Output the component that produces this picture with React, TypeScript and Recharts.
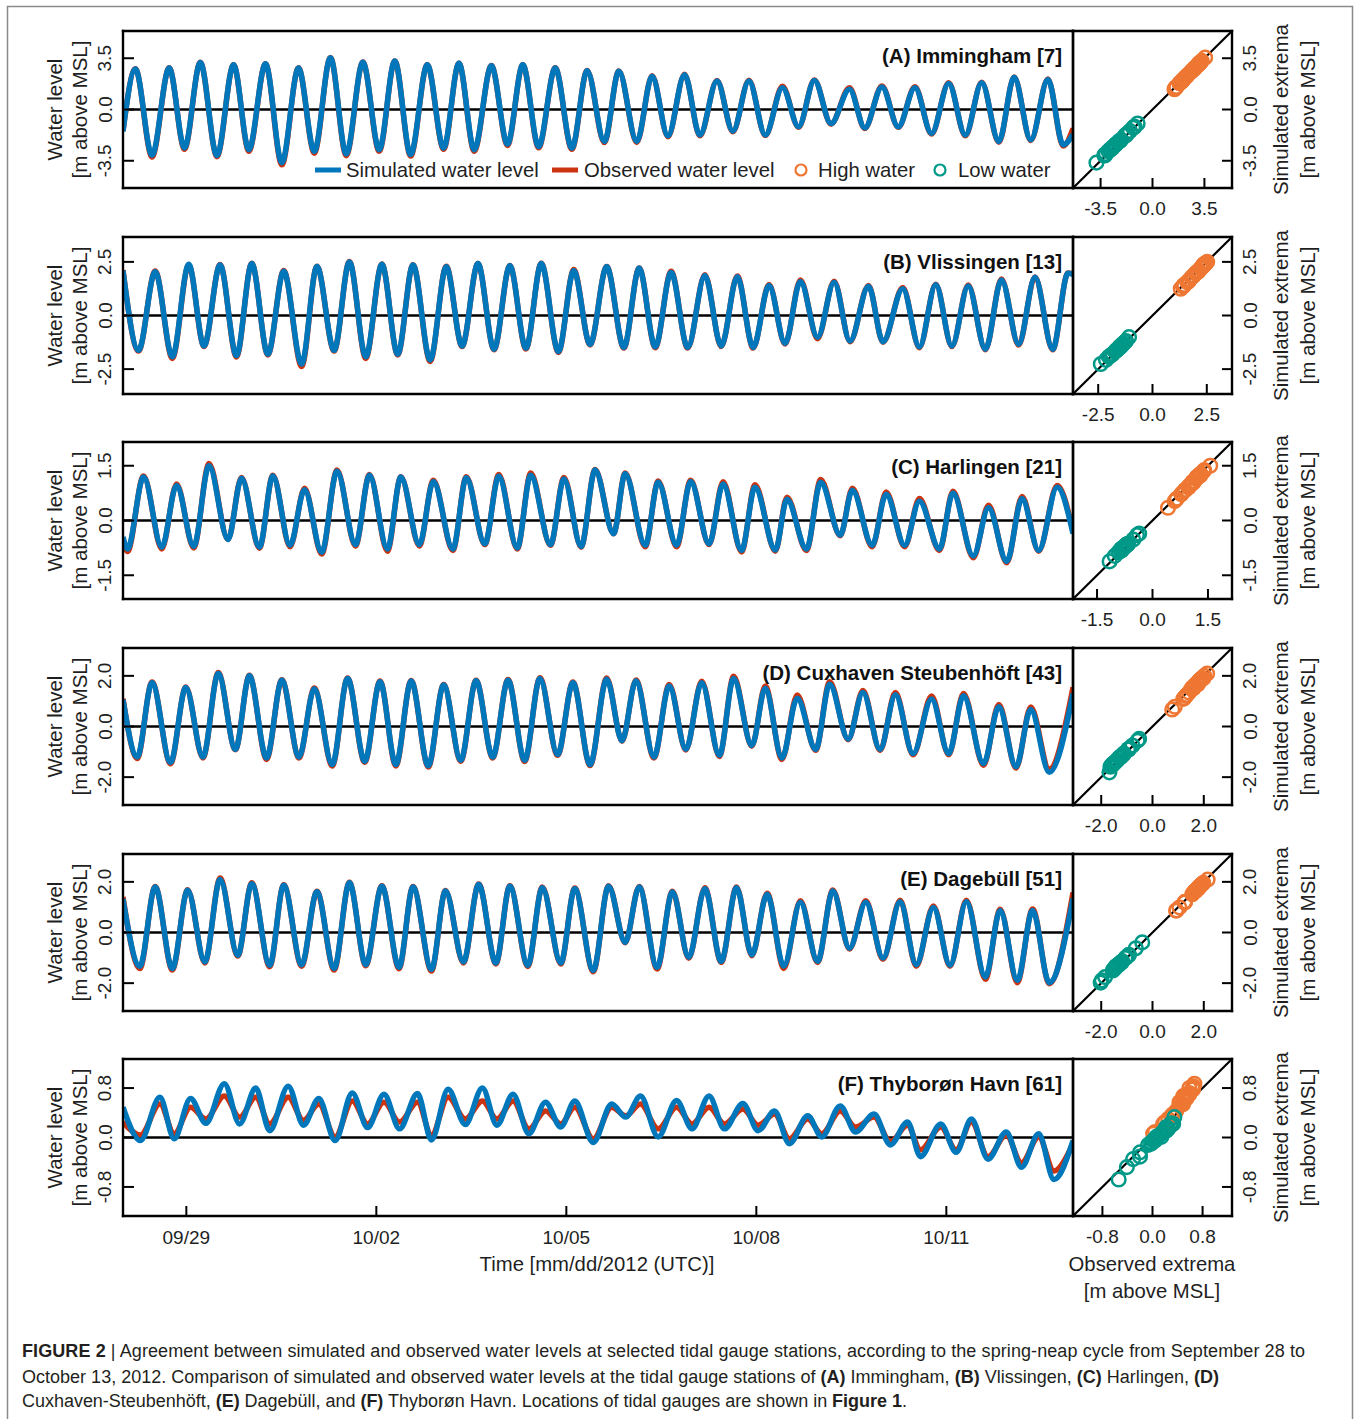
import React from 'react';
import { LineChart, Line, XAxis, YAxis, ReferenceLine, ScatterChart, Scatter } from 'recharts';

const FONT = '"Liberation Sans", Arial, Helvetica, sans-serif';
const INK = '#1f1f1f';
const BLUE = '#0077BB';
const RED = '#CC3311';
const ORANGE = '#EE7733';
const TEAL = '#009988';

// time axis (hours since 09/28/2012 00:00 UTC)
const timeTicks = [24, 96, 168, 240, 312];
const timeTickLabels = ['09/29', '10/02', '10/05', '10/08', '10/11'];

// ---------- (A) Immingham ----------
const highHoursA = [4.7, 17.5, 29.3, 41.9, 54.0, 66.5, 78.6, 90.9, 103.0, 115.3, 127.3, 139.6, 151.5, 163.8, 175.9, 187.9, 200.5, 212.8, 225.1, 237.2, 249.9, 262.0, 275.3, 287.6, 300.1, 312.9, 325.4, 337.7, 350.5];
const highSimA = [2.76, 2.83, 3.21, 3.05, 3.12, 2.83, 3.54, 3.23, 3.32, 3.05, 3.16, 2.98, 3.05, 2.83, 2.65, 2.61, 2.27, 2.38, 1.94, 1.94, 1.49, 1.98, 1.38, 1.54, 1.49, 1.78, 1.83, 2.20, 2.05];
const highObsA = [2.78, 2.85, 3.22, 3.06, 3.12, 2.85, 3.55, 3.24, 3.32, 3.06, 3.16, 3.0, 3.06, 2.85, 2.67, 2.63, 2.3, 2.4, 1.98, 2.0, 1.58, 2.02, 1.48, 1.6, 1.55, 1.82, 1.86, 2.22, 2.08];
const lowHoursA = [11.0, 23.3, 35.6, 47.7, 60.2, 72.5, 84.6, 97.1, 109.0, 121.5, 133.1, 145.7, 157.5, 170.1, 182.4, 194.7, 206.5, 218.6, 231.1, 243.4, 256.0, 268.3, 281.1, 293.8, 306.4, 319.2, 331.9, 344.0, 356.3];
const lowSimA = [-3.12, -2.63, -3.14, -2.74, -3.63, -2.85, -3.03, -2.74, -3.07, -2.63, -2.74, -2.36, -2.52, -2.63, -2.18, -2.18, -1.80, -1.74, -1.47, -1.74, -1.18, -0.96, -1.25, -1.18, -1.63, -1.74, -2.18, -2.07, -2.41];
const lowObsA = [-3.25, -2.72, -3.22, -2.85, -3.78, -2.98, -3.15, -2.85, -3.18, -2.72, -2.85, -2.45, -2.62, -2.72, -2.26, -2.25, -1.86, -1.8, -1.52, -1.78, -1.22, -1.0, -1.3, -1.22, -1.68, -1.8, -2.24, -2.12, -2.5];
const edgeSimA = [-1.5, -1.7];
const edgeObsA = [-1.45, -1.3];

// ---------- (B) Vlissingen ----------
const highHoursB = [12.2, 24.9, 36.8, 48.8, 60.9, 73.5, 85.8, 98.1, 109.9, 122.5, 134.5, 146.6, 158.5, 170.8, 183.3, 195.6, 207.7, 220.5, 232.8, 244.8, 256.7, 269.5, 282.5, 295.5, 308.0, 320.3, 332.9, 345.6, 358.1];
const highSimB = [2.04, 2.39, 2.36, 2.42, 2.06, 2.29, 2.50, 2.39, 2.36, 2.27, 2.42, 2.32, 2.42, 2.09, 2.27, 2.20, 2.01, 1.86, 1.81, 1.40, 1.59, 1.55, 1.36, 1.25, 1.43, 1.37, 1.66, 1.78, 1.97];
const highObsB = [2.08, 2.36, 2.38, 2.44, 2.1, 2.3, 2.52, 2.4, 2.37, 2.3, 2.42, 2.33, 2.44, 2.14, 2.28, 2.22, 2.06, 1.9, 1.84, 1.44, 1.66, 1.6, 1.4, 1.3, 1.46, 1.42, 1.7, 1.8, 1.98];
const lowHoursB = [5.9, 18.7, 30.7, 43.0, 54.9, 67.7, 80.0, 92.0, 104.1, 116.4, 128.5, 140.6, 152.7, 165.0, 177.0, 189.8, 201.7, 214.0, 226.7, 238.8, 250.9, 263.2, 275.5, 288.0, 301.8, 314.1, 326.8, 339.4, 352.3];
const lowSimB = [-1.62, -1.92, -1.42, -1.87, -1.80, -2.26, -1.62, -1.92, -1.80, -2.07, -1.42, -1.57, -1.52, -1.68, -1.34, -1.49, -1.46, -1.49, -1.42, -1.49, -1.30, -1.01, -1.19, -1.22, -1.46, -1.42, -1.57, -1.34, -1.57];
const lowObsB = [-1.66, -2.0, -1.45, -1.93, -1.84, -2.38, -1.66, -2.0, -1.84, -2.14, -1.45, -1.6, -1.56, -1.72, -1.37, -1.52, -1.5, -1.52, -1.45, -1.52, -1.33, -1.08, -1.22, -1.25, -1.5, -1.45, -1.6, -1.38, -1.6];
const edgeSimB = [2.09, 1.92];
const edgeObsB = [2.12, 1.95];

// ---------- (C) Harlingen ----------
const highHoursC = [7.8, 20.3, 32.6, 44.9, 56.8, 68.8, 81.1, 93.4, 105.3, 117.6, 130.1, 142.4, 154.5, 167.1, 178.9, 190.3, 202.8, 215.1, 227.4, 239.5, 251.6, 264.4, 276.4, 289.2, 301.8, 314.5, 328.0, 340.7, 354.0];
const highSimC = [1.19, 0.96, 1.50, 1.16, 1.22, 0.84, 1.35, 1.24, 1.19, 1.07, 1.17, 1.21, 1.24, 1.14, 1.38, 1.28, 1.05, 1.07, 1.00, 0.91, 0.58, 1.05, 0.83, 0.72, 0.53, 0.75, 0.35, 0.60, 0.91];
const highObsC = [1.22, 1.0, 1.56, 1.18, 1.24, 0.88, 1.38, 1.26, 1.2, 1.1, 1.2, 1.26, 1.3, 1.18, 1.4, 1.3, 1.08, 1.1, 1.06, 0.98, 0.64, 1.12, 0.88, 0.78, 0.6, 0.8, 0.42, 0.66, 0.96];
const lowHoursC = [1.7, 14.7, 26.8, 39.8, 51.7, 63.3, 75.3, 88.1, 100.2, 112.3, 125.0, 137.1, 149.4, 162.0, 173.6, 185.9, 197.9, 209.8, 222.1, 234.4, 247.2, 259.0, 271.8, 283.9, 296.2, 309.4, 322.2, 334.9, 347.0];
const lowSimC = [-0.78, -0.73, -0.71, -0.52, -0.73, -0.68, -0.87, -0.66, -0.78, -0.66, -0.78, -0.64, -0.75, -0.66, -0.71, -0.36, -0.68, -0.68, -0.64, -0.82, -0.81, -0.78, -0.40, -0.68, -0.68, -0.78, -0.97, -1.12, -0.82];
const lowObsC = [-0.85, -0.78, -0.75, -0.52, -0.76, -0.72, -0.92, -0.7, -0.84, -0.7, -0.82, -0.66, -0.78, -0.68, -0.73, -0.36, -0.72, -0.72, -0.66, -0.86, -0.84, -0.82, -0.42, -0.72, -0.72, -0.82, -1.02, -1.16, -0.84];
const edgeSimC = [-0.45, -0.36];
const edgeObsC = [-0.5, -0.3];

// ---------- (D) Cuxhaven Steubenhöft ----------
const highHoursD = [11.0, 23.8, 36.1, 47.9, 60.2, 72.5, 85.1, 97.4, 109.2, 121.5, 133.8, 145.9, 158.0, 170.5, 183.3, 194.4, 207.0, 219.3, 231.4, 243.4, 255.5, 267.8, 280.4, 292.7, 306.4, 318.5, 331.9, 344.0];
const highSimD = [1.73, 1.54, 2.09, 2.00, 1.83, 1.49, 1.90, 1.77, 1.80, 1.64, 1.81, 1.83, 1.90, 1.73, 1.87, 1.81, 1.60, 1.73, 1.90, 1.51, 1.12, 1.67, 1.34, 1.25, 1.09, 1.21, 0.78, 0.67];
const highObsD = [1.76, 1.56, 2.13, 2.02, 1.85, 1.52, 1.92, 1.8, 1.82, 1.66, 1.83, 1.86, 1.93, 1.76, 1.92, 1.84, 1.66, 1.79, 1.98, 1.6, 1.24, 1.77, 1.42, 1.34, 1.2, 1.3, 0.87, 0.77];
const lowHoursD = [5.4, 18.0, 30.3, 42.6, 54.4, 66.7, 79.3, 91.6, 103.4, 115.7, 128.0, 140.1, 152.2, 164.7, 177.0, 189.1, 201.2, 213.3, 226.0, 238.3, 249.7, 262.5, 274.8, 286.9, 299.4, 312.9, 326.1, 338.4, 351.0];
const lowSimD = [-1.20, -1.42, -1.20, -0.90, -1.24, -1.20, -1.50, -1.37, -1.50, -1.55, -1.33, -1.20, -1.33, -1.11, -1.50, -0.56, -1.20, -0.90, -1.14, -0.75, -1.24, -0.90, -0.49, -0.90, -1.07, -1.07, -1.46, -1.59, -1.81];
const lowObsD = [-1.26, -1.47, -1.24, -0.92, -1.3, -1.24, -1.56, -1.42, -1.56, -1.6, -1.37, -1.24, -1.38, -1.14, -1.54, -0.58, -1.24, -0.93, -1.18, -0.78, -1.3, -0.94, -0.52, -0.95, -1.12, -1.12, -1.53, -1.64, -1.68];
const edgeSimD = [1.06, 1.3];
const edgeObsD = [1.1, 1.55];

// ---------- (E) Dagebüll ----------
const highHoursE = [12.2, 24.5, 36.8, 48.8, 60.9, 73.5, 85.8, 98.1, 109.9, 122.2, 134.8, 146.6, 158.9, 171.2, 184.0, 195.6, 208.2, 220.5, 232.5, 244.1, 256.7, 269.0, 281.5, 294.5, 307.1, 319.6, 332.4, 344.7];
const highSimE = [1.80, 1.67, 2.09, 1.93, 1.87, 1.61, 1.96, 1.83, 1.80, 1.64, 1.90, 1.83, 1.77, 1.73, 1.83, 1.80, 1.60, 1.73, 1.77, 1.51, 1.19, 1.64, 1.19, 1.21, 0.99, 1.21, 0.87, 0.87];
const highObsE = [1.82, 1.69, 2.15, 1.96, 1.89, 1.63, 1.98, 1.85, 1.82, 1.66, 1.92, 1.85, 1.8, 1.76, 1.85, 1.82, 1.63, 1.77, 1.8, 1.55, 1.25, 1.68, 1.25, 1.27, 1.05, 1.27, 0.92, 0.93];
const lowHoursE = [6.4, 18.7, 31.0, 43.5, 55.6, 67.7, 80.0, 92.0, 104.6, 116.9, 129.0, 141.3, 153.4, 165.9, 178.2, 190.3, 202.4, 214.4, 226.7, 238.3, 250.4, 263.2, 275.3, 288.0, 300.6, 313.4, 326.8, 338.9, 351.0];
const lowSimE = [-1.33, -1.42, -1.16, -0.90, -1.29, -1.27, -1.42, -1.27, -1.37, -1.46, -1.16, -1.20, -1.29, -1.20, -1.50, -0.39, -1.37, -0.98, -1.14, -0.88, -1.33, -1.14, -0.62, -1.01, -1.27, -1.29, -1.76, -1.89, -1.98];
const lowObsE = [-1.42, -1.48, -1.2, -0.93, -1.35, -1.33, -1.48, -1.31, -1.43, -1.52, -1.2, -1.24, -1.34, -1.24, -1.55, -0.4, -1.44, -1.02, -1.18, -0.92, -1.42, -1.18, -0.65, -1.06, -1.33, -1.33, -1.85, -1.98, -2.02];
const edgeSimE = [1.32, 1.34];
const edgeObsE = [1.4, 1.58];

// ---------- (F) Thyborøn Havn ----------
const highHoursF = [14.0, 25.6, 38.4, 50.3, 62.6, 74.2, 86.9, 98.9, 111.6, 123.2, 136.2, 147.8, 160.1, 171.2, 185.2, 196.1, 209.8, 222.1, 234.9, 246.9, 259.5, 271.8, 284.6, 297.3, 309.9, 321.5, 334.7, 347.0];
const highSimF = [0.65, 0.63, 0.87, 0.80, 0.83, 0.63, 0.72, 0.70, 0.71, 0.78, 0.80, 0.70, 0.57, 0.59, 0.54, 0.67, 0.60, 0.67, 0.55, 0.43, 0.35, 0.51, 0.38, 0.25, 0.22, 0.30, 0.09, 0.06];
const highObsF = [0.54, 0.49, 0.67, 0.65, 0.65, 0.54, 0.59, 0.57, 0.57, 0.65, 0.59, 0.59, 0.43, 0.49, 0.49, 0.54, 0.49, 0.49, 0.46, 0.38, 0.30, 0.43, 0.33, 0.20, 0.17, 0.25, 0.04, 0.01];
const lowHoursF = [6.6, 19.4, 31.4, 44.2, 55.6, 68.4, 80.4, 92.7, 104.8, 116.9, 129.7, 141.7, 153.8, 165.9, 178.2, 190.5, 202.8, 215.6, 227.9, 240.7, 252.5, 264.8, 277.6, 290.8, 302.2, 315.7, 327.8, 340.5, 352.8];
const lowSimF = [-0.05, -0.02, 0.23, 0.22, 0.11, 0.20, -0.05, 0.16, 0.14, -0.04, 0.21, 0.20, 0.06, 0.17, -0.08, 0.33, 0.01, 0.14, 0.14, 0.11, -0.10, 0.01, 0.09, -0.12, -0.31, -0.24, -0.35, -0.48, -0.68];
const lowObsF = [0.04, 0.06, 0.30, 0.33, 0.22, 0.28, 0.01, 0.22, 0.25, 0.04, 0.30, 0.30, 0.14, 0.22, -0.02, 0.35, 0.14, 0.22, 0.22, 0.20, -0.02, 0.06, 0.17, -0.07, -0.20, -0.20, -0.31, -0.41, -0.54];
const edgeSimF = [0.49, -0.05];
const edgeObsF = [0.25, -0.1];

const titles = ['(A) Immingham [7]', '(B) Vlissingen [13]', '(C) Harlingen [21]', '(D) Cuxhaven Steubenhöft [43]', '(E) Dagebüll [51]', '(F) Thyborøn Havn [61]'];
const limits = [5.36, 3.66, 2.15, 3.1, 3.1, 1.27];
const tickSteps = [3.5, 2.5, 1.5, 2.0, 2.0, 0.8];

type Station = {
  hh: number[]; hs: number[]; ho: number[];
  lh: number[]; ls: number[]; lo: number[];
  es: number[]; eo: number[];
};

const stations: Station[] = [
  { hh: highHoursA, hs: highSimA, ho: highObsA, lh: lowHoursA, ls: lowSimA, lo: lowObsA, es: edgeSimA, eo: edgeObsA },
  { hh: highHoursB, hs: highSimB, ho: highObsB, lh: lowHoursB, ls: lowSimB, lo: lowObsB, es: edgeSimB, eo: edgeObsB },
  { hh: highHoursC, hs: highSimC, ho: highObsC, lh: lowHoursC, ls: lowSimC, lo: lowObsC, es: edgeSimC, eo: edgeObsC },
  { hh: highHoursD, hs: highSimD, ho: highObsD, lh: lowHoursD, ls: lowSimD, lo: lowObsD, es: edgeSimD, eo: edgeObsD },
  { hh: highHoursE, hs: highSimE, ho: highObsE, lh: lowHoursE, ls: lowSimE, lo: lowObsE, es: edgeSimE, eo: edgeObsE },
  { hh: highHoursF, hs: highSimF, ho: highObsF, lh: lowHoursF, ls: lowSimF, lo: lowObsF, es: edgeSimF, eo: edgeObsF },
];

const panelTops = [31, 237, 442, 648, 854, 1059];

// layout
const PLOT_L = 123;
const PLOT_W = 950;
const SC_L = 1073;
const SC_W = 159;
const PLOT_H = 157;
const M_T = 10;
const M_B = 40;
const M_L = 40;
const M_R = 4;
const SC_ML = 4;
const SC_MR = 40;

function buildLine(s: Station) {
  const pts: { t: number; sim: number; obs: number }[] = [
    { t: 0, sim: s.es[0], obs: s.eo[0] },
    { t: 360, sim: s.es[1], obs: s.eo[1] },
  ];
  s.hh.forEach((t, i) => pts.push({ t, sim: s.hs[i], obs: s.ho[i] }));
  s.lh.forEach((t, i) => pts.push({ t, sim: s.ls[i], obs: s.lo[i] }));
  pts.sort((a, b) => a.t - b.t);
  return pts;
}

const fmt = (v: number) => v.toFixed(1);
const axisLineStyle: any = { stroke: '#000', strokeWidth: 2.4, strokeLinecap: 'square' };
const tickLineStyle: any = { stroke: '#000', strokeWidth: 2 };

function rotatedLabel(x: number, y: number, text: string, size = 19, key?: any) {
  return (
    <text key={key} x={x} y={y} transform={`rotate(-90 ${x} ${y})`} textAnchor="middle" dominantBaseline="central"
      fontSize={size} fontFamily={FONT} fill={INK}>{text}</text>
  );
}

function circleShape(color: string) {
  return (p: any) => (
    <circle cx={p.cx} cy={p.cy} r={6.8} fill="none" stroke={color} strokeWidth={2.5} />
  );
}

function Row({ s, top, idx }: { s: Station; top: number; idx: number }) {
  const data = buildLine(s);
  const lim = limits[idx];
  const step = tickSteps[idx];
  const dom = [-lim, lim];
  const ticks = [-step, 0, step];
  const last = idx === 5;
  const highs = s.hh.map((_, i) => ({ x: s.ho[i], y: s.hs[i] }));
  const lows = s.lh.map((_, i) => ({ x: s.lo[i], y: s.ls[i] }));

  const leftTick = (p: any) => rotatedLabel(M_L - 18, p.y, fmt(p.payload.value));
  const timeTick = (p: any) => (
    <text x={p.x} y={M_T + PLOT_H + 21} textAnchor="middle" dominantBaseline="central" fontSize={19} fontFamily={FONT} fill={INK}>
      {timeTickLabels[timeTicks.indexOf(p.payload.value)]}
    </text>
  );
  const scBottomTick = (p: any) => (
    <text x={p.x} y={M_T + PLOT_H + 20} textAnchor="middle" dominantBaseline="central" fontSize={19} fontFamily={FONT} fill={INK}>
      {fmt(p.payload.value)}
    </text>
  );
  const scRightTick = (p: any) => rotatedLabel(SC_ML + SC_W + 18, p.y, fmt(p.payload.value));

  return (
    <>
      <div style={{ position: 'absolute', left: PLOT_L - M_L, top: top - M_T }}>
        <LineChart width={PLOT_W + M_L + M_R} height={PLOT_H + M_T + M_B} data={data}
          margin={{ top: M_T, right: M_R, bottom: M_B, left: M_L }}>
          <XAxis xAxisId="b" dataKey="t" type="number" domain={[0, 360]} ticks={timeTicks} interval={0}
            height={0.01} mirror tickSize={10} axisLine={axisLineStyle} tickLine={tickLineStyle}
            tick={last ? timeTick : false} allowDataOverflow />
          <XAxis xAxisId="t" orientation="top" dataKey="t" type="number" domain={[0, 360]} ticks={timeTicks} interval={0}
            height={0.01} mirror tickSize={10} axisLine={axisLineStyle} tickLine={tickLineStyle} tick={false} allowDataOverflow />
          <YAxis yAxisId="l" type="number" domain={dom} ticks={ticks} interval={0} width={0.01} mirror tickSize={11}
            axisLine={axisLineStyle} tickLine={tickLineStyle} tick={leftTick} allowDataOverflow />
          <YAxis yAxisId="r" orientation="right" type="number" domain={dom} ticks={ticks} interval={0} width={0.01} mirror tickSize={11}
            axisLine={axisLineStyle} tickLine={tickLineStyle} tick={false} allowDataOverflow />
          <ReferenceLine xAxisId="b" yAxisId="l" y={0} stroke="#000" strokeWidth={2.4} />
          <Line xAxisId="b" yAxisId="l" dataKey="obs" type="monotone" stroke={RED} strokeWidth={5.5} dot={false}
            isAnimationActive={false} />
          <Line xAxisId="b" yAxisId="l" dataKey="sim" type="monotone" stroke={BLUE} strokeWidth={5.5} dot={false}
            isAnimationActive={false} />
        </LineChart>
      </div>
      <div style={{ position: 'absolute', left: SC_L - SC_ML, top: top - M_T }}>
        <ScatterChart width={SC_W + SC_ML + SC_MR} height={PLOT_H + M_T + M_B}
          margin={{ top: M_T, right: SC_MR, bottom: M_B, left: SC_ML }}>
          <XAxis xAxisId="b" dataKey="x" type="number" domain={dom} ticks={ticks} interval={0} height={0.01} mirror tickSize={10}
            axisLine={axisLineStyle} tickLine={tickLineStyle} tick={scBottomTick} allowDataOverflow />
          <XAxis xAxisId="t" orientation="top" dataKey="x" type="number" domain={dom} ticks={ticks} interval={0} height={0.01} mirror
            tickSize={10} axisLine={axisLineStyle} tickLine={tickLineStyle} tick={false} allowDataOverflow />
          <YAxis yAxisId="l" dataKey="y" type="number" domain={dom} ticks={ticks} interval={0} width={0.01} mirror tickSize={10}
            axisLine={axisLineStyle} tickLine={tickLineStyle} tick={false} allowDataOverflow />
          <YAxis yAxisId="r" orientation="right" dataKey="y" type="number" domain={dom} ticks={ticks} interval={0} width={0.01} mirror
            tickSize={10} axisLine={axisLineStyle} tickLine={tickLineStyle} tick={scRightTick} allowDataOverflow />
          <ReferenceLine xAxisId="b" yAxisId="l" segment={[{ x: -lim, y: -lim }, { x: lim, y: lim }]} stroke="#000" strokeWidth={2.2} />
          <Scatter xAxisId="b" yAxisId="l" data={highs} shape={circleShape(ORANGE)} isAnimationActive={false} />
          <Scatter xAxisId="b" yAxisId="l" data={lows} shape={circleShape(TEAL)} isAnimationActive={false} />
        </ScatterChart>
      </div>
    </>
  );
}

function Overlay() {
  const items: any[] = [];
  panelTops.forEach((top, i) => {
    const cy = top + PLOT_H / 2;
    items.push(rotatedLabel(54, cy, 'Water level', 20.5, `wl${i}`));
    items.push(rotatedLabel(79, cy, '[m above MSL]', 20.5, `wm${i}`));
    items.push(rotatedLabel(1280, cy, 'Simulated extrema', 20.5, `se${i}`));
    items.push(rotatedLabel(1307, cy, '[m above MSL]', 20.5, `sm${i}`));
    items.push(
      <text key={`t${i}`} x={1062} y={top + 24} textAnchor="end" dominantBaseline="central" fontSize={20.5}
        fontWeight="bold" fontFamily={FONT} fill="#111">{titles[i]}</text>
    );
  });
  const ly = 170;
  const legendText = (x: number, t: string) => (
    <text x={x} y={ly} dominantBaseline="central" fontSize={20.3} fontFamily={FONT} fill={INK}>{t}</text>
  );
  return (
    <svg width={1358} height={1419} style={{ position: 'absolute', left: 0, top: 0, pointerEvents: 'none' }}>
      <rect x={7.5} y={6.5} width={1345} height={1500} fill="none" stroke="#8a8a8a" strokeWidth={1.5} />
      {items}
      <line x1={315} x2={341} y1={ly} y2={ly} stroke={BLUE} strokeWidth={5} />
      {legendText(346, 'Simulated water level')}
      <line x1={552} x2={578} y1={ly} y2={ly} stroke={RED} strokeWidth={5} />
      {legendText(584, 'Observed water level')}
      <circle cx={801} cy={ly} r={5.5} fill="none" stroke={ORANGE} strokeWidth={2.2} />
      {legendText(818, 'High water')}
      <circle cx={940} cy={ly} r={5.5} fill="none" stroke={TEAL} strokeWidth={2.2} />
      {legendText(958, 'Low water')}
      <text x={597} y={1264} textAnchor="middle" dominantBaseline="central" fontSize={20.3} fontFamily={FONT} fill={INK}>Time [mm/dd/2012 (UTC)]</text>
      <text x={1152} y={1264} textAnchor="middle" dominantBaseline="central" fontSize={20.3} fontFamily={FONT} fill={INK}>Observed extrema</text>
      <text x={1152} y={1291} textAnchor="middle" dominantBaseline="central" fontSize={20.3} fontFamily={FONT} fill={INK}>[m above MSL]</text>
      <g fontFamily={FONT} fontSize={18} fill="#231f20">
        <text x={22} y={1351} dominantBaseline="central" textLength={1283} lengthAdjust="spacing">
          <tspan fontWeight="bold">FIGURE 2 </tspan>
          <tspan>| Agreement between simulated and observed water levels at selected tidal gauge stations, according to the spring-neap cycle from September 28 to</tspan>
        </text>
        <text x={22} y={1377} dominantBaseline="central" textLength={1197} lengthAdjust="spacing">
          <tspan>October 13, 2012. Comparison of simulated and observed water levels at the tidal gauge stations of </tspan>
          <tspan fontWeight="bold">(A)</tspan><tspan> Immingham, </tspan>
          <tspan fontWeight="bold">(B)</tspan><tspan> Vlissingen, </tspan>
          <tspan fontWeight="bold">(C)</tspan><tspan> Harlingen, </tspan>
          <tspan fontWeight="bold">(D)</tspan>
        </text>
        <text x={22} y={1401} dominantBaseline="central" textLength={885} lengthAdjust="spacing">
          <tspan>Cuxhaven-Steubenhöft, </tspan>
          <tspan fontWeight="bold">(E)</tspan><tspan> Dagebüll, and </tspan>
          <tspan fontWeight="bold">(F)</tspan><tspan> Thyborøn Havn. Locations of tidal gauges are shown in </tspan>
          <tspan fontWeight="bold">Figure 1</tspan><tspan>.</tspan>
        </text>
      </g>
    </svg>
  );
}

export default function App() {
  return (
    <div style={{ position: 'absolute', left: 0, top: 0, width: 1358, height: 1419, overflow: 'hidden', background: '#fff', fontFamily: FONT }}>
      {stations.map((s, i) => (
        <Row key={i} s={s} top={panelTops[i]} idx={i} />
      ))}
      <Overlay />
    </div>
  );
}
